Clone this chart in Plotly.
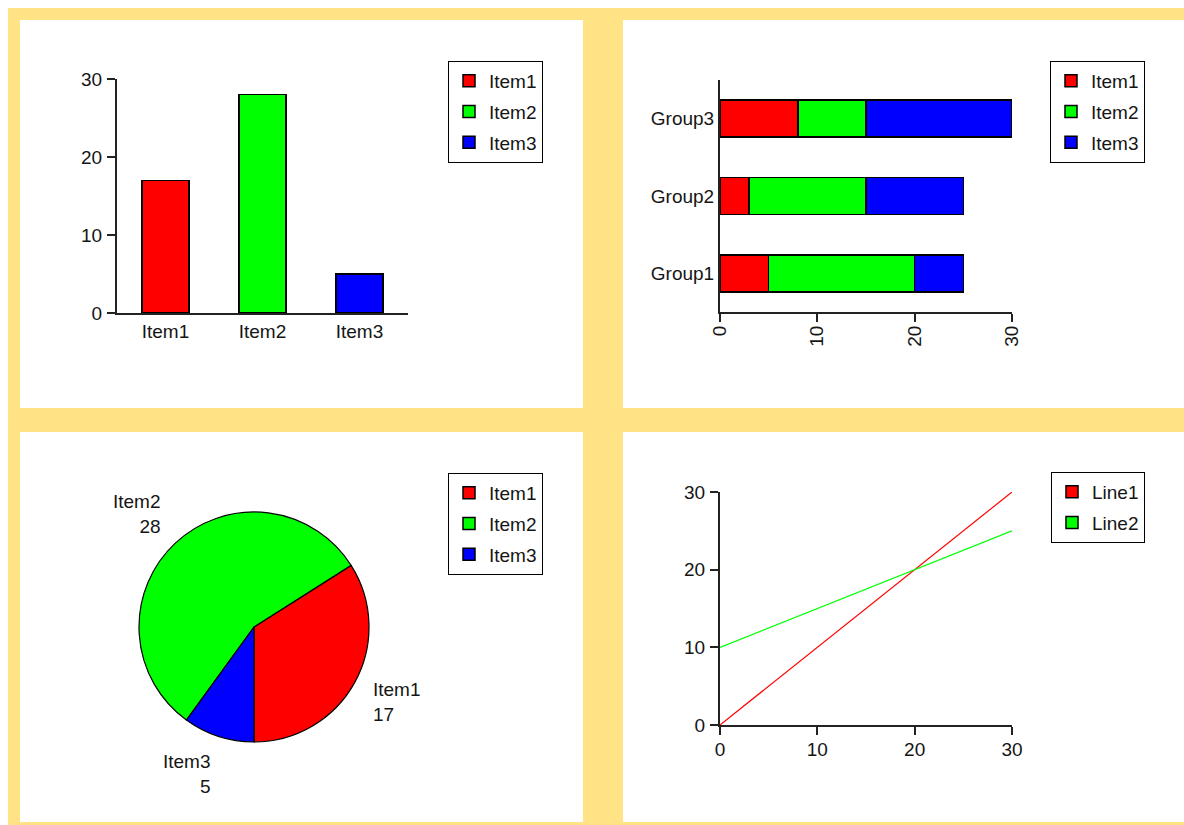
import math
import plotly.graph_objects as go

W, H = 1184, 825

# ---------------- data ----------------
items = ["Item1", "Item2", "Item3"]
item_values = [17, 28, 5]
item_colors = ["#FF0000", "#00FF00", "#0000FF"]

groups = ["Group1", "Group2", "Group3"]
group_item1 = [5, 3, 8]
group_item2 = [15, 12, 7]
group_item3 = [5, 10, 15]

pie_labels = ["Item1", "Item2", "Item3"]
pie_values = [17, 28, 5]

line_x = [0, 30]
line1_y = [0, 30]
line2_y = [10, 25]
line_names = ["Line1", "Line2"]
line_colors = ["#FF0000", "#00FF00"]

axis_ticks = [0, 10, 20, 30]


# ---------------- helpers (window pixel -> paper fraction) ----------------
def px(x):
    return min(max(x / W, 0), 1)


def py(y):
    return min(max(1 - y / H, 0), 1)


FONT = "Liberation Sans, Arial, sans-serif"
TXT = "#151515"
FS = 19
AX = "#222222"

fig = go.Figure()

# Panel 1: vertical bars
for name, val, col in zip(items, item_values, item_colors):
    fig.add_bar(x=[name], y=[val], name=name, xaxis="x", yaxis="y",
                marker=dict(color=col, line=dict(color="black", width=1.5)),
                legend="legend", legendgroup="p1" + name)

# Panel 2: stacked horizontal bars
for name, vals, col in zip(items, [group_item1, group_item2, group_item3], item_colors):
    fig.add_bar(y=groups, x=vals, orientation="h", name=name, xaxis="x2", yaxis="y2",
                marker=dict(color=col, line=dict(color="black", width=1.5)),
                legend="legend2", legendgroup="p2" + name)

# Panel 3: pie (first slice runs counterclockwise from 6 o'clock)
total = sum(pie_values)
pie_dom_x = [139, 369]
pie_dom_y = [512, 742]
fig.add_pie(labels=pie_labels, values=pie_values, sort=False,
            direction="counterclockwise", rotation=180 - 360 * pie_values[0] / total,
            textinfo="none",
            marker=dict(colors=item_colors, line=dict(color="black", width=1.2)),
            domain=dict(x=[px(pie_dom_x[0]), px(pie_dom_x[1])],
                        y=[py(pie_dom_y[1]), py(pie_dom_y[0])]),
            showlegend=False)
# legend entries for pie (square swatches)
for name, col in zip(pie_labels, item_colors):
    fig.add_bar(x=[None], y=[None], name=name, xaxis="x", yaxis="y",
                marker=dict(color=col, line=dict(color="black", width=1.5)),
                legend="legend3", legendgroup="p3" + name, hoverinfo="skip")

# pie outside labels (placed from each slice's mid angle)
cx = (pie_dom_x[0] + pie_dom_x[1]) / 2
cy = (pie_dom_y[0] + pie_dom_y[1]) / 2
R = (pie_dom_x[1] - pie_dom_x[0]) / 2
cum = 0
for lab, v in zip(pie_labels, pie_values):
    mid = -90 + 360 * (cum + v / 2) / total
    cum += v
    a = math.radians(mid)
    lx = cx + (R + 18) * math.cos(a)
    ly = cy - (R + 40) * math.sin(a)
    xa = "left" if math.cos(a) >= 0 else "right"
    fig.add_annotation(x=px(lx), y=py(ly), xref="paper", yref="paper",
                       text=f"{lab}<br>{v}", showarrow=False, xanchor=xa,
                       yanchor="middle", align=xa,
                       font=dict(size=FS, color=TXT, family=FONT))

# Panel 4: lines
fig.add_scatter(x=line_x, y=line1_y, mode="lines", xaxis="x3", yaxis="y3",
                line=dict(color=line_colors[0], width=1.2), showlegend=False, name=line_names[0])
fig.add_scatter(x=line_x, y=line2_y, mode="lines", xaxis="x3", yaxis="y3",
                line=dict(color=line_colors[1], width=1.2), showlegend=False, name=line_names[1])
for name, col in zip(line_names, line_colors):
    fig.add_bar(x=[None], y=[None], name=name, xaxis="x3", yaxis="y3",
                marker=dict(color=col, line=dict(color="black", width=1.5)),
                legend="legend4", legendgroup="p4" + name, hoverinfo="skip")

# ---------------- layout ----------------
common_ax = dict(showline=True, linecolor=AX, linewidth=2, showgrid=False, zeroline=False,
                 tickfont=dict(size=FS, color=TXT, family=FONT), tickcolor=AX, tickwidth=2,
                 automargin=False)

legend_common = dict(bgcolor="white", bordercolor="black", borderwidth=1,
                     font=dict(size=FS, color=TXT, family=FONT), xanchor="left",
                     yanchor="top", tracegroupgap=3, traceorder="grouped")

panels = [(20, 20, 583, 408), (623, 20, 1184, 408), (20, 432, 583, 822), (623, 432, 1184, 822)]
shapes = [dict(type="rect", xref="paper", yref="paper", x0=px(8), x1=1, y0=0, y1=py(8),
               fillcolor="#FFE384", line=dict(width=0), layer="below")]
for (x0, y0, x1, y1) in panels:
    shapes.append(dict(type="rect", xref="paper", yref="paper", x0=px(x0), x1=px(x1),
                       y0=py(y1), y1=py(y0), fillcolor="white", line=dict(width=0),
                       layer="below"))

fig.update_layout(
    width=W, height=H,
    margin=dict(l=0, r=0, t=0, b=0, pad=0, autoexpand=False),
    paper_bgcolor="white", plot_bgcolor="rgba(0,0,0,0)",
    barmode="stack", bargap=0.52,
    font=dict(family=FONT, size=FS, color=TXT),
    shapes=shapes,
    xaxis=dict(domain=[px(117), px(408)], type="category", range=[-0.5, 2.5],
               ticks="", anchor="y", ticklabelstandoff=0, **common_ax),
    yaxis=dict(domain=[py(313), py(79)], range=[0, 30], tickvals=axis_ticks,
               ticks="outside", ticklen=8, anchor="x", ticklabelstandoff=1, **common_ax),
    xaxis2=dict(domain=[px(720), px(1012)], range=[0, 30], tickvals=axis_ticks,
                ticks="outside", ticklen=8, tickangle=-90, anchor="y2",
                ticklabelstandoff=-4, **common_ax),
    yaxis2=dict(domain=[py(312), py(80)], type="category", range=[-0.5, 2.5],
                ticks="", anchor="x2", ticklabelstandoff=0, **common_ax),
    xaxis3=dict(domain=[px(720), px(1012)], range=[0, 30], tickvals=axis_ticks,
                ticks="outside", ticklen=8, anchor="y3", ticklabelstandoff=-2, **common_ax),
    yaxis3=dict(domain=[py(725), py(492)], range=[0, 30], tickvals=axis_ticks,
                ticks="outside", ticklen=8, anchor="x3", ticklabelstandoff=1, **common_ax),
    legend=dict(x=px(448), y=py(61), **legend_common),
    legend2=dict(x=px(1050), y=py(61), **legend_common),
    legend3=dict(x=px(448), y=py(473), **legend_common),
    legend4=dict(x=px(1051), y=py(472), **legend_common),
)

fig.write_html("out.html")
